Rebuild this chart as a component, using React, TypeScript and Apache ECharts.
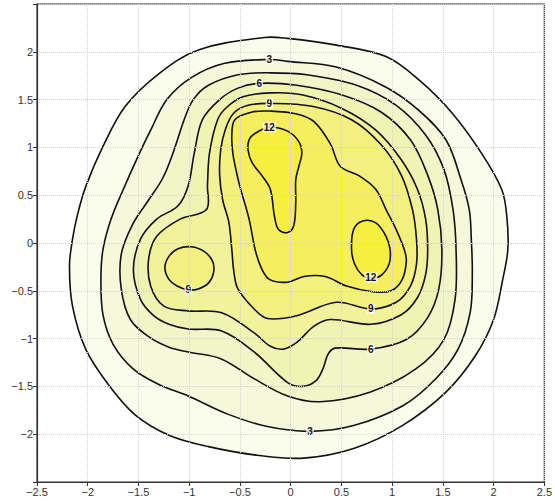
import React, { useEffect, useRef } from "react";
import * as echarts from "echarts";

// contour levels and band colours
const levels = [1.5, 3, 4.5, 6, 7.5, 9, 10.5, 12];
const bandColors = ["#fafcec", "#f5f8db", "#f2f5c8", "#f1f3b3", "#f2f29a", "#f3f080", "#f5ef60", "#f7ef40"];

// contour lines, [x, y] in data units
const contour1_5 = [[-0.26,2.15],[-0.03,2.14],[0.45,2.07],[0.94,1.95],[1.27,1.70],[1.59,1.36],[1.88,0.94],[2.08,0.56],[2.13,0.28],[2.14,-0.07],[2.09,-0.38],[2.00,-0.80],[1.82,-1.18],[1.53,-1.56],[1.10,-1.91],[0.62,-2.15],[0.13,-2.25],[-0.33,-2.22],[-0.81,-2.13],[-1.20,-2.01],[-1.53,-1.80],[-1.79,-1.49],[-2.02,-1.11],[-2.15,-0.66],[-2.18,-0.24],[-2.15,0.04],[-2.10,0.30],[-2.02,0.59],[-1.85,1.01],[-1.63,1.43],[-1.30,1.77],[-0.91,2.02]];
const contour3 = [[-0.21,1.92],[-0.03,1.90],[0.45,1.84],[0.94,1.63],[1.26,1.39],[1.53,1.08],[1.68,0.66],[1.76,0.35],[1.78,0.04],[1.79,-0.31],[1.77,-0.72],[1.65,-1.11],[1.43,-1.42],[1.11,-1.70],[0.62,-1.91],[0.19,-1.97],[-0.23,-1.92],[-0.62,-1.79],[-1.01,-1.60],[-1.30,-1.48],[-1.55,-1.32],[-1.75,-1.06],[-1.85,-0.75],[-1.87,-0.38],[-1.85,-0.07],[-1.77,0.25],[-1.65,0.56],[-1.52,0.87],[-1.38,1.18],[-1.22,1.50],[-0.98,1.73],[-0.65,1.88]];
const contour4_5 = [[-0.20,1.78],[0.16,1.76],[0.65,1.65],[1.04,1.44],[1.33,1.13],[1.51,0.77],[1.60,0.35],[1.63,-0.07],[1.62,-0.59],[1.51,-1.01],[1.23,-1.32],[0.78,-1.56],[0.29,-1.66],[-0.03,-1.60],[-0.36,-1.42],[-0.69,-1.21],[-1.01,-1.14],[-1.20,-1.09],[-1.40,-0.98],[-1.58,-0.80],[-1.67,-0.48],[-1.67,-0.12],[-1.56,0.19],[-1.40,0.45],[-1.26,0.68],[-1.15,0.97],[-1.05,1.29],[-0.96,1.50],[-0.81,1.65],[-0.52,1.76]];
const contour6 = [[-0.31,1.67],[0.06,1.65],[0.50,1.55],[0.89,1.37],[1.18,1.08],[1.35,0.71],[1.45,0.35],[1.49,-0.07],[1.46,-0.48],[1.35,-0.78],[1.14,-1.01],[0.79,-1.11],[0.44,-1.10],[0.37,-1.16],[0.32,-1.31],[0.25,-1.44],[0.12,-1.50],[-0.03,-1.46],[-0.36,-1.14],[-0.68,-0.92],[-1.01,-0.90],[-1.20,-0.85],[-1.35,-0.76],[-1.48,-0.59],[-1.55,-0.28],[-1.48,0.04],[-1.32,0.25],[-1.11,0.39],[-1.01,0.60],[-0.95,0.94],[-0.87,1.29],[-0.70,1.50],[-0.52,1.62]];
const contour7_5 = [[-0.20,1.57],[0.11,1.55],[0.50,1.41],[0.84,1.18],[1.09,0.87],[1.25,0.56],[1.33,0.25],[1.35,-0.07],[1.33,-0.33],[1.25,-0.57],[1.09,-0.75],[0.79,-0.85],[0.39,-0.80],[0.23,-0.87],[0.06,-1.04],[-0.07,-1.11],[-0.20,-1.08],[-0.36,-0.94],[-0.68,-0.73],[-1.01,-0.71],[-1.25,-0.66],[-1.38,-0.45],[-1.40,-0.17],[-1.32,0.07],[-1.09,0.25],[-0.83,0.35],[-0.82,0.60],[-0.80,0.94],[-0.72,1.29],[-0.63,1.42],[-0.47,1.53]];
const contour9Main = [[-0.21,1.46],[0.21,1.43],[0.60,1.29],[0.89,1.03],[1.09,0.71],[1.20,0.35],[1.24,0.04],[1.24,-0.22],[1.18,-0.45],[1.04,-0.62],[0.79,-0.69],[0.45,-0.62],[0.06,-0.76],[-0.23,-0.79],[-0.36,-0.69],[-0.52,-0.48],[-0.56,-0.30],[-0.58,-0.07],[-0.61,0.22],[-0.67,0.45],[-0.70,0.71],[-0.69,0.97],[-0.64,1.20],[-0.56,1.36],[-0.42,1.44]];
const contour9Left = [[-1.20,-0.14],[-1.11,-0.06],[-0.98,-0.04],[-0.85,-0.09],[-0.77,-0.19],[-0.76,-0.31],[-0.81,-0.42],[-0.91,-0.48],[-1.01,-0.49],[-1.12,-0.45],[-1.20,-0.38],[-1.24,-0.26]];
const contour10_5 = [[-0.20,1.38],[0.06,1.35],[0.23,1.27],[0.39,1.04],[0.49,0.80],[0.68,0.70],[0.84,0.56],[0.94,0.35],[1.04,0.14],[1.12,-0.07],[1.14,-0.19],[1.10,-0.38],[0.99,-0.50],[0.81,-0.51],[0.55,-0.45],[0.34,-0.35],[0.13,-0.35],[-0.03,-0.41],[-0.21,-0.38],[-0.29,-0.26],[-0.35,-0.07],[-0.41,0.25],[-0.50,0.59],[-0.54,0.77],[-0.57,0.94],[-0.58,1.13],[-0.55,1.29],[-0.38,1.37]];
const contour12Upper = [[-0.21,1.21],[-0.03,1.17],[0.08,1.06],[0.11,0.94],[0.08,0.80],[0.05,0.66],[0.05,0.42],[0.03,0.18],[-0.03,0.11],[-0.12,0.14],[-0.16,0.28],[-0.20,0.56],[-0.28,0.70],[-0.38,0.84],[-0.42,0.97],[-0.41,1.08],[-0.36,1.14]];
const contour12Right = [[0.71,0.23],[0.84,0.21],[0.94,0.07],[0.98,-0.07],[0.97,-0.22],[0.89,-0.34],[0.79,-0.37],[0.70,-0.33],[0.63,-0.22],[0.60,-0.07],[0.62,0.14]];

const contourLevels = [1.5, 3, 4.5, 6, 7.5, 9, 9, 10.5, 12, 12];
const contourLines = [contour1_5, contour3, contour4_5, contour6, contour7_5, contour9Main, contour9Left, contour10_5, contour12Upper, contour12Right];

// inline contour labels
const labelText = ["3", "6", "9", "12", "12", "9", "6", "3", "9"];
const labelX = [-0.21, -0.31, -0.21, -0.21, 0.79, 0.79, 0.79, 0.19, -1.01];
const labelY = [1.92, 1.67, 1.46, 1.21, -0.36, -0.69, -1.11, -1.97, -0.49];

const fmt = (v: number) => String(Math.round(v * 10) / 10).replace("-", "\u2212");

export default function App() {
  const ref = useRef<HTMLDivElement>(null);
  useEffect(() => {
    if (!ref.current) return;
    const chart = echarts.init(ref.current, undefined, { renderer: "svg" });
    const axisCommon = {
      type: "value" as const,
      min: -2.5,
      max: 2.5,
      interval: 0.5,
      z: 10,
      axisLine: { show: true, onZero: false, lineStyle: { color: "#333", width: 1.2 } },
      axisTick: { show: true, length: 4, lineStyle: { color: "#333" } },
      splitLine: { show: true, lineStyle: { type: "dotted" as const, color: "#d4d4d4", width: 1 } },
    };
    chart.setOption({
      animation: false,
      backgroundColor: "#fff",
      grid: { left: 37, right: 5, top: 4, bottom: 19, show: true, borderColor: "#333", borderWidth: 1.2, backgroundColor: "transparent" },
      xAxis: {
        ...axisCommon,
        axisLabel: { fontSize: 11, color: "#333", margin: 4, fontFamily: "Liberation Sans, Arial, sans-serif", formatter: (v: number) => fmt(v) },
      },
      yAxis: {
        ...axisCommon,
        axisLabel: {
          fontSize: 11, color: "#333", margin: 4, fontFamily: "Liberation Sans, Arial, sans-serif",
          formatter: (v: number) => (Math.abs(v) > 2.4 ? "" : fmt(v)),
        },
      },
      series: [
        {
          type: "custom",
          silent: true,
          z: 2,
          data: contourLines.map((_, i) => [0, 0, i]),
          renderItem: (params: any, api: any) => {
            const i = params.dataIndex;
            const pts = contourLines[i].map((p) => api.coord(p));
            const band = levels.indexOf(contourLevels[i]);
            return {
              type: "polygon",
              shape: { points: pts, smooth: 0.35 },
              style: { fill: bandColors[band], stroke: "#111", lineWidth: 1.6 },
            };
          },
        },
        {
          type: "custom",
          silent: true,
          z: 5,
          data: labelText.map((_, i) => [labelX[i], labelY[i]]),
          renderItem: (params: any, api: any) => {
            const i = params.dataIndex;
            const p = api.coord([labelX[i], labelY[i]]);
            return {
              type: "text",
              x: p[0],
              y: p[1],
              style: {
                text: labelText[i],
                fill: "#111",
                font: "bold 10px 'Liberation Sans', Arial, sans-serif",
                align: "center",
                verticalAlign: "middle",
                backgroundColor: "rgba(255,255,255,0.8)",
                padding: [0, 1],
              },
            };
          },
        },
      ],
    });
    return () => chart.dispose();
  }, []);
  return <div ref={ref} style={{ position: "absolute", left: 0, top: 0, width: 555, height: 501 }} />;
}
